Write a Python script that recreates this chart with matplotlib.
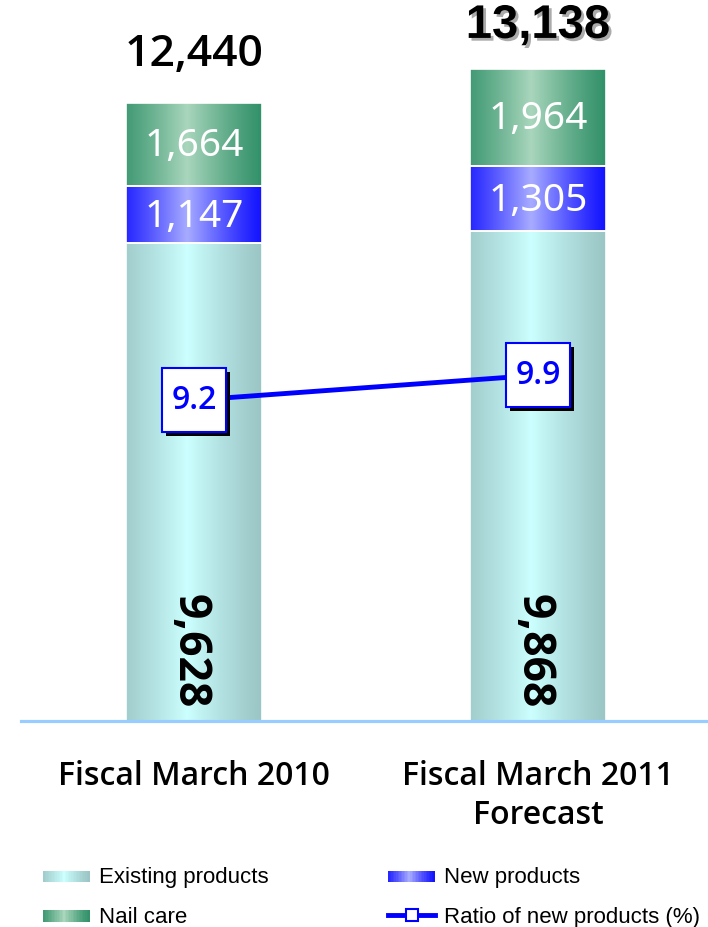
import numpy as np
import matplotlib
matplotlib.use("Agg")
import matplotlib.pyplot as plt
import matplotlib.patheffects as pe
from matplotlib.patches import Rectangle
from matplotlib.lines import Line2D
from matplotlib.legend_handler import HandlerBase

# ---- data ----
periods = ["Fiscal March 2010", "Fiscal March 2011\nForecast"]
existing = [9628, 9868]
new_products = [1147, 1305]
nail_care = [1664, 1964]
totals = [12440, 13138]
ratio = [9.2, 9.9]

series_names = ["Existing products", "New products", "Nail care", "Ratio of new products (%)"]

# gradient colours (edge, centre)
grad_existing = ("#9cc6c6", "#ccffff")
grad_new = ("#1414ff", "#a8acff")
grad_nail = ("#33926a", "#a9d6bd")
line_blue = "#0000ff"


def gradient_image(edge, centre, n=200):
    e = np.array(matplotlib.colors.to_rgb(edge))
    c = np.array(matplotlib.colors.to_rgb(centre))
    t = np.linspace(0, 1, n)
    # bright band slightly left of centre
    w = np.clip(1 - np.abs(t - 0.45) / 0.55, 0, 1) ** 1.2
    img = e[None, :] * (1 - w[:, None]) + c[None, :] * w[:, None]
    return img[None, :, :]


def fill_gradient(ax, bars, colours):
    for b in bars:
        x, y = b.get_x(), b.get_y()
        w, h = b.get_width(), b.get_height()
        im = ax.imshow(gradient_image(*colours), extent=[x, x + w, y, y + h],
                       aspect="auto", zorder=1, interpolation="bilinear")
        im.set_clip_path(b)
        b.set_facecolor("none")


class GradientHandler(HandlerBase):
    def __init__(self, colours):
        super().__init__()
        self.colours = colours

    def create_artists(self, legend, orig_handle, xdescent, ydescent,
                       width, height, fontsize, trans):
        img = gradient_image(*self.colours, n=30)[0]
        arts = []
        n = len(img)
        for i, c in enumerate(img):
            r = Rectangle((-xdescent + width * i / n, -ydescent + height * 0.05),
                          width / n + 0.3, height * 0.75, facecolor=c,
                          edgecolor="none", transform=trans)
            arts.append(r)
        return arts


BOLD = "Open Sans"

fig = plt.figure(figsize=(7.08, 9.27), dpi=100)
ax = fig.add_axes([21 / 708, 206 / 927, 687 / 708, 701 / 927])

x = np.arange(len(periods))
width = 0.395
bottom2 = np.array(existing)
bottom3 = bottom2 + np.array(new_products)

b1 = ax.bar(x, existing, width, edgecolor="white", linewidth=1.2, zorder=2)
b2 = ax.bar(x, new_products, width, bottom=bottom2, edgecolor="white", linewidth=1.2, zorder=2)
b3 = ax.bar(x, nail_care, width, bottom=bottom3, edgecolor="white", linewidth=1.2, zorder=2)
fill_gradient(ax, b1, grad_existing)
fill_gradient(ax, b2, grad_new)
fill_gradient(ax, b3, grad_nail)

ax.set_xlim(-0.503, 1.494)
ax.set_ylim(0, 14120)

# segment labels
for i in range(len(x)):
    ax.text(x[i] - 0.015, 1400, f"{existing[i]:,}", rotation=-90, ha="center", va="center",
            fontsize=32, fontweight="bold", family=BOLD, color="black", zorder=5)
    ax.text(x[i], bottom2[i] + new_products[i] / 2 - 40, f"{new_products[i]:,}",
            ha="center", va="center", fontsize=28, family="Noto Sans", color="white", zorder=5)
    ax.text(x[i], bottom3[i] + nail_care[i] / 2 - 20, f"{nail_care[i]:,}",
            ha="center", va="center", fontsize=28, family="Noto Sans", color="white", zorder=5)

# totals
ax.annotate(f"{totals[0]:,}", (x[0], totals[0]), xytext=(0, 20), textcoords="offset points",
            ha="center", va="bottom", fontsize=32, fontweight="semibold", family=BOLD)
ax.annotate(f"{totals[1]:,}", (x[1], totals[1]), xytext=(0, 15), textcoords="offset points",
            ha="center", va="bottom", fontsize=34, fontweight="bold", family="Liberation Sans",
            path_effects=[pe.withSimplePatchShadow(offset=(2, -2), shadow_rgbFace="#888888", alpha=0.7)])

# axes styling
for s in ["top", "left", "right"]:
    ax.spines[s].set_visible(False)
ax.spines["bottom"].set_color("#99ccff")
ax.spines["bottom"].set_linewidth(2.3)
ax.set_yticks([])
ax.set_xticks(x)
ax.set_xticklabels(periods, fontsize=23, fontweight="semibold", family=BOLD, linespacing=1.25)
ax.tick_params(axis="x", length=0, pad=28)

# ratio line on secondary axis
ax2 = ax.twinx()
ax2.set_ylim(0.21, 19.85)
ax2.axis("off")
ax2.plot(x, ratio, color=line_blue, lw=3.5, zorder=3)
ax2.plot(x, ratio, "s", ms=46, mfc="white", mec=line_blue, mew=1.5, zorder=4,
         path_effects=[pe.SimplePatchShadow(offset=(3, -3), shadow_rgbFace="black", alpha=1), pe.Normal()])
for i in range(len(x)):
    ax2.text(x[i], ratio[i], f"{ratio[i]:.1f}", ha="center", va="center", color=line_blue,
             fontsize=23, fontweight="semibold", family=BOLD, zorder=6)

# legend
h_exist = Rectangle((0, 0), 1, 1)
h_nail = Rectangle((0, 0), 1, 1)
h_new = Rectangle((0, 0), 1, 1)
h_ratio = Line2D([0], [0], color=line_blue, lw=3.5, marker="s", ms=9, mfc="white", mec=line_blue, mew=1.5)
fig.legend([h_exist, h_nail, h_new, h_ratio],
           [series_names[0], series_names[2], series_names[1], series_names[3]],
           handler_map={h_exist: GradientHandler(grad_existing),
                        h_nail: GradientHandler(grad_nail),
                        h_new: GradientHandler(grad_new)},
           ncol=2, loc="upper left", bbox_to_anchor=(43 / 708, 1 - 867 / 927),
           frameon=False, handlelength=2.1, handletextpad=0.4, borderpad=0, borderaxespad=0,
           columnspacing=5.4, labelspacing=0.85,
           prop={"family": "Liberation Sans", "size": 16})

fig.savefig("out.png", dpi=100)
